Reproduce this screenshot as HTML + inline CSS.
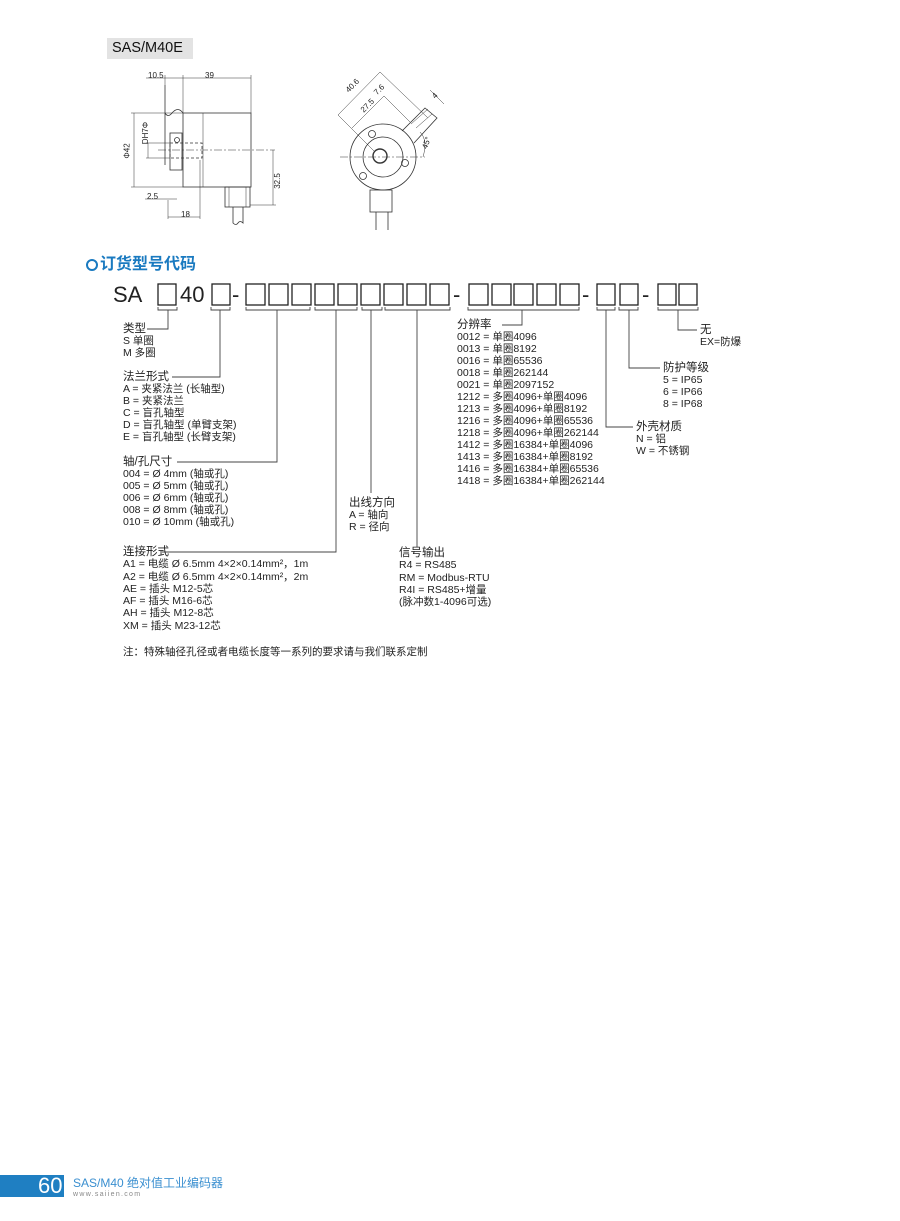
<!DOCTYPE html>
<html><head><meta charset="utf-8"><style>
body{margin:0;width:900px;height:1221px;background:#fff;position:relative;overflow:hidden;font-family:"Liberation Sans","Noto Sans CJK SC",sans-serif;color:#222}
.t{position:absolute;font-size:10.5px;line-height:12px;white-space:nowrap}
.h{font-size:11.5px}
svg{position:absolute;left:0;top:0}
</style></head><body>
<div style="position:absolute;left:107px;top:38px;width:86px;height:21px;background:#e3e3e3"></div>
<div class="t" style="left:112px;top:40px;font-size:14.5px;line-height:17px;color:#111">SAS/M40E</div>

<svg width="900" height="1221" viewBox="0 0 900 1221" fill="none" stroke="#333" stroke-width="0.8">
<!-- left drawing -->
<rect x="183" y="113" width="68" height="74"/>
<line x1="203" y1="113" x2="203" y2="187" stroke-width="0.5"/>
<path d="M165 85 L165 165 M165 113 Q168 118 172 113 Q178 106 183 113"/>
<rect x="170" y="133" width="12" height="37"/>
<rect x="170" y="143" width="32" height="15" stroke-dasharray="3,2"/>
<circle cx="177" cy="140" r="2.5"/>
<line x1="158" y1="150" x2="275" y2="150" stroke-dasharray="8,2,2,2" stroke-width="0.5"/>
<line x1="146" y1="78" x2="251" y2="78" stroke-width="0.5"/>
<line x1="165" y1="75" x2="165" y2="85" stroke-width="0.5"/>
<line x1="183" y1="75" x2="183" y2="113" stroke-width="0.5"/>
<line x1="251" y1="75" x2="251" y2="113" stroke-width="0.5"/>
<line x1="134" y1="113" x2="134" y2="187" stroke-width="0.5"/>
<line x1="131" y1="113" x2="183" y2="113" stroke-width="0.5"/>
<line x1="131" y1="187" x2="183" y2="187" stroke-width="0.5"/>
<line x1="148" y1="143" x2="148" y2="158" stroke-width="0.5"/>
<line x1="146" y1="143" x2="170" y2="143" stroke-width="0.5"/>
<line x1="146" y1="158" x2="170" y2="158" stroke-width="0.5"/>
<line x1="273" y1="150" x2="273" y2="205" stroke-width="0.5"/>
<line x1="250" y1="205" x2="276" y2="205" stroke-width="0.5"/>
<rect x="225" y="187" width="25" height="20"/>
<line x1="229" y1="187" x2="229" y2="207" stroke-width="0.5"/><line x1="246" y1="187" x2="246" y2="207" stroke-width="0.5"/>
<path d="M233 207 L233 223 Q236 226 238 223 Q240 220 243 223 L243 207"/>
<line x1="145" y1="199" x2="177" y2="199" stroke-width="0.5"/>
<line x1="168" y1="200" x2="168" y2="219" stroke-width="0.5"/>
<line x1="200" y1="160" x2="200" y2="219" stroke-width="0.5"/>
<line x1="168" y1="217" x2="200" y2="217" stroke-width="0.5"/>
<!-- right drawing -->
<circle cx="383" cy="157" r="33"/>
<circle cx="383" cy="157" r="20"/>
<circle cx="380" cy="156" r="7" stroke-width="1.4"/>
<circle cx="372" cy="134" r="3.5"/><circle cx="405" cy="163" r="3.5"/><circle cx="363" cy="176" r="3.5"/>
<line x1="340" y1="157" x2="425" y2="157" stroke-dasharray="8,2,2,2" stroke-width="0.5"/>
<path d="M402 131 L425 108 L437 118 L414 143"/>
<path d="M411 124 L428 109 M416 128 L432 114" stroke-width="0.5"/>
<line x1="338" y1="115" x2="380" y2="72" stroke-width="0.5"/>
<line x1="352" y1="128" x2="384" y2="96" stroke-width="0.5"/>
<line x1="380" y1="72" x2="428" y2="118" stroke-width="0.5"/>
<line x1="384" y1="96" x2="410" y2="122" stroke-width="0.5"/>
<line x1="338" y1="115" x2="375" y2="152" stroke-width="0.5"/>
<line x1="430" y1="90" x2="444" y2="104" stroke-width="0.5"/>
<path d="M420 132 Q428 140 423 157" stroke-width="0.5"/>
<rect x="370" y="190" width="22" height="22"/>
<path d="M376 212 L376 230 M388 212 L388 230"/>
<!-- code boxes -->
<g stroke="#222" stroke-width="1.3">
<rect x="158" y="284" width="18" height="21"/><rect x="212" y="284" width="18" height="21"/>
<rect x="246" y="284" width="19" height="21"/><rect x="269" y="284" width="19" height="21"/><rect x="292" y="284" width="19" height="21"/>
<rect x="315" y="284" width="19" height="21"/><rect x="338" y="284" width="19" height="21"/><rect x="361" y="284" width="19" height="21"/>
<rect x="384" y="284" width="19" height="21"/><rect x="407" y="284" width="19" height="21"/><rect x="430" y="284" width="19" height="21"/>
<rect x="469" y="284" width="19" height="21"/><rect x="492" y="284" width="19" height="21"/><rect x="514" y="284" width="19" height="21"/>
<rect x="537" y="284" width="19" height="21"/><rect x="560" y="284" width="19" height="21"/>
<rect x="597" y="284" width="18" height="21"/><rect x="620" y="284" width="18" height="21"/>
<rect x="658" y="284" width="18" height="21"/><rect x="679" y="284" width="18" height="21"/>
</g>
<g stroke="#444" stroke-width="0.9">
<path d="M158 307V310H177V307 M168 310V329H147"/>
<path d="M211 307V310H230V307 M220 310V377H172"/>
<path d="M246 307V310H310V307 M277 310V462H177"/>
<path d="M315 307V310H357V307 M336 310V552H162"/>
<path d="M362 307V310H382V307 M371 310V493"/>
<path d="M385 307V310H450V307 M417 310V547"/>
<path d="M468 307V310H579V307 M522 310V325H502"/>
<path d="M597 307V310H615V307 M606 310V427H633"/>
<path d="M619 307V310H638V307 M629 310V368H660"/>
<path d="M658 307V310H698V307 M678 310V330H697"/>
</g>
</svg>
<div class="t" style="left:148px;top:70px;font-size:8px">10.5</div>
<div class="t" style="left:205px;top:70px;font-size:8px">39</div>
<div class="t" style="left:147px;top:191px;font-size:8px">2.5</div>
<div class="t" style="left:181px;top:209px;font-size:8px">18</div>
<div class="t" style="left:120px;top:145px;font-size:8px;transform:rotate(-90deg)">Φ42</div>
<div class="t" style="left:135px;top:127px;font-size:8px;transform:rotate(-90deg)">DH7Φ</div>
<div class="t" style="left:270px;top:175px;font-size:8px;transform:rotate(-90deg)">32.5</div>
<div class="t" style="left:345px;top:80px;font-size:8px;transform:rotate(-45deg)">40.6</div>
<div class="t" style="left:360px;top:100px;font-size:8px;transform:rotate(-45deg)">27.5</div>
<div class="t" style="left:374px;top:84px;font-size:8px;transform:rotate(-45deg)">7.6</div>
<div class="t" style="left:433px;top:90px;font-size:8px;transform:rotate(-45deg)">4</div>
<div class="t" style="left:421px;top:137px;font-size:8px;transform:rotate(-70deg)">45°</div>

<div style="position:absolute;left:86px;top:259px;width:8px;height:8px;border:2px solid #1a7ac0;border-radius:50%"></div>
<div class="t" style="left:100px;top:255px;font-size:16px;line-height:20px;font-weight:bold;color:#1a7ac0">订货型号代码</div>

<div class="t" style="left:113px;top:283px;font-size:22px;line-height:24px">SA</div>
<div class="t" style="left:180px;top:283px;font-size:22px;line-height:24px">40</div>
<div class="t" style="left:232px;top:283px;font-size:22px;line-height:24px">-</div>
<div class="t" style="left:453px;top:283px;font-size:22px;line-height:24px">-</div>
<div class="t" style="left:582px;top:283px;font-size:22px;line-height:24px">-</div>
<div class="t" style="left:642px;top:283px;font-size:22px;line-height:24px">-</div>

<div class="t" style="left:123px;top:323px"><span class="h">类型</span><br>S 单圈<br>M 多圈</div>
<div class="t" style="left:123px;top:371px"><span class="h">法兰形式</span><br>A = 夹紧法兰 (长轴型)<br>B = 夹紧法兰<br>C = 盲孔轴型<br>D = 盲孔轴型 (单臂支架)<br>E = 盲孔轴型 (长臂支架)</div>
<div class="t" style="left:123px;top:456px"><span class="h">轴/孔尺寸</span><br>004 = Ø 4mm (轴或孔)<br>005 = Ø 5mm (轴或孔)<br>006 = Ø 6mm (轴或孔)<br>008 = Ø 8mm (轴或孔)<br>010 = Ø 10mm (轴或孔)</div>
<div class="t" style="left:123px;top:546px;line-height:12.3px"><span class="h">连接形式</span><br>A1 = 电缆 Ø 6.5mm 4×2×0.14mm²，1m<br>A2 = 电缆 Ø 6.5mm 4×2×0.14mm²，2m<br>AE = 插头 M12-5芯<br>AF = 插头 M16-6芯<br>AH = 插头 M12-8芯<br>XM = 插头 M23-12芯</div>
<div class="t" style="left:123px;top:646px">注：特殊轴径孔径或者电缆长度等一系列的要求请与我们联系定制</div>
<div class="t" style="left:349px;top:497px"><span class="h">出线方向</span><br>A = 轴向<br>R = 径向</div>
<div class="t" style="left:399px;top:547px;line-height:12.3px"><span class="h">信号输出</span><br>R4 = RS485<br>RM = Modbus-RTU<br>R4I = RS485+增量<br>(脉冲数1-4096可选)</div>
<div class="t" style="left:457px;top:319px"><span class="h">分辨率</span><br>0012 = 单圈4096<br>0013 = 单圈8192<br>0016 = 单圈65536<br>0018 = 单圈262144<br>0021 = 单圈2097152<br>1212 = 多圈4096+单圈4096<br>1213 = 多圈4096+单圈8192<br>1216 = 多圈4096+单圈65536<br>1218 = 多圈4096+单圈262144<br>1412 = 多圈16384+单圈4096<br>1413 = 多圈16384+单圈8192<br>1416 = 多圈16384+单圈65536<br>1418 = 多圈16384+单圈262144</div>
<div class="t" style="left:636px;top:421px"><span class="h">外壳材质</span><br>N = 铝<br>W = 不锈钢</div>
<div class="t" style="left:663px;top:362px"><span class="h">防护等级</span><br>5 = IP65<br>6 = IP66<br>8 = IP68</div>
<div class="t" style="left:700px;top:324px"><span class="h">无</span><br>EX=防爆</div>

<div style="position:absolute;left:0;top:1175px;width:64px;height:22px;background:#1f7fc2"></div>
<div class="t" style="left:38px;top:1174px;font-size:22px;line-height:24px;color:#fff">60</div>
<div class="t" style="left:73px;top:1176px;font-size:12px;line-height:14px;color:#3a8fd0">SAS/M40 绝对值工业编码器</div>
<div class="t" style="left:73px;top:1190px;font-size:7px;line-height:9px;color:#888;letter-spacing:1.3px">www.saiien.com</div>
</body></html>
